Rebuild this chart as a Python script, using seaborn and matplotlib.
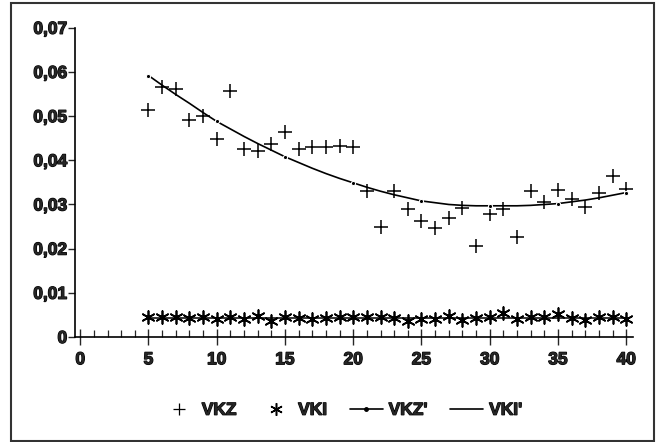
import numpy as np
import pandas as pd
import matplotlib
matplotlib.use("Agg")
import matplotlib.pyplot as plt
import matplotlib.patheffects as pe
from matplotlib.patches import Rectangle
from matplotlib.lines import Line2D
from matplotlib.ticker import FuncFormatter, MultipleLocator
import seaborn as sns

# x positions 5..40
x_vals = list(range(5, 41))

vkz = [0.0515, 0.0565, 0.0562, 0.0492, 0.0501, 0.0449, 0.0556, 0.0426, 0.0422,
       0.0438, 0.0465, 0.0426, 0.0429, 0.0429, 0.0433, 0.0431, 0.0331, 0.0249,
       0.0331, 0.0290, 0.0263, 0.0247, 0.0270, 0.0293, 0.0206, 0.0278, 0.0290,
       0.0227, 0.0331, 0.0306, 0.0333, 0.0313, 0.0295, 0.0327, 0.0365, 0.0336]

vki = [0.0045, 0.0045, 0.0045, 0.0044, 0.0046, 0.0041, 0.0045, 0.0041, 0.0048,
       0.0037, 0.0046, 0.0043, 0.0040, 0.0043, 0.0045, 0.0045, 0.0045, 0.0045,
       0.0043, 0.0037, 0.0040, 0.0040, 0.0048, 0.0039, 0.0043, 0.0046, 0.0054,
       0.0040, 0.0045, 0.0046, 0.0052, 0.0043, 0.0039, 0.0045, 0.0045, 0.0040]

vkz_fit = [0.0592, 0.0570, 0.0549, 0.0529, 0.0508, 0.0488, 0.0471, 0.0454, 0.0438,
           0.0423, 0.0408, 0.0395, 0.0382, 0.0370, 0.0359, 0.0349, 0.0339, 0.0330,
           0.0322, 0.0315, 0.0308, 0.0304, 0.0300, 0.0298, 0.0297, 0.0297, 0.0297,
           0.0297, 0.0298, 0.0300, 0.0302, 0.0306, 0.0310, 0.0315, 0.0321, 0.0327]

vki_fit = [0.0043] * len(x_vals)

x_ticks = [0, 5, 10, 15, 20, 25, 30, 35, 40]
y_ticks = [0, 0.01, 0.02, 0.03, 0.04, 0.05, 0.06, 0.07]

df = pd.DataFrame({"x": x_vals, "VKZ": vkz, "VKI": vki,
                   "VKZ'": vkz_fit, "VKI'": vki_fit})

sns.set_style("ticks")
plt.rcParams["font.family"] = ["Liberation Sans", "DejaVu Sans"]
plt.rcParams["font.weight"] = "bold"

fig = plt.figure(figsize=(6.56, 4.42), dpi=100)
ax = fig.add_axes([0.114, 0.2376, 0.851, 0.6995])

asterisk = (6, 2, 0)

sns.lineplot(data=df, x="x", y="VKI'", ax=ax, color="black", lw=1.1)
sns.lineplot(data=df, x="x", y="VKZ'", ax=ax, color="black", lw=1.2,
             marker="o", markersize=3, markevery=5)
sns.scatterplot(data=df, x="x", y="VKZ", ax=ax, marker="+", s=100,
                color="black", linewidth=1.1)
sns.scatterplot(data=df, x="x", y="VKI", ax=ax, marker=asterisk, s=85,
                color="black", linewidth=1.25)

ax.set_xlim(-0.4, 40.5)
ax.set_ylim(0, 0.07)
ax.set_xticks(x_ticks)
ax.set_yticks(y_ticks)
ax.xaxis.set_minor_locator(MultipleLocator(1))
ax.yaxis.set_major_formatter(FuncFormatter(
    lambda v, p: "0" if v == 0 else f"{v:.2f}".replace(".", ",")))
ax.set_xlabel("")
ax.set_ylabel("")

sns.despine(ax=ax)
for sp in ["left", "bottom"]:
    ax.spines[sp].set_linewidth(1.2)
    ax.spines[sp].set_color("black")
ax.spines["bottom"].set_clip_on(False)

ax.tick_params(axis="x", which="major", direction="inout", length=12,
               width=1.0, pad=5, labelsize=12.5)
ax.tick_params(axis="x", which="minor", direction="in", length=5, width=0.9)
ax.tick_params(axis="y", which="major", direction="out", length=5,
               width=1.0, pad=0.5, labelsize=12.5)

handles = [
    Line2D([], [], color="black", marker="+", ls="none", markersize=9, mew=0.9),
    Line2D([], [], color="black", marker=asterisk, ls="none", markersize=9, mew=1.1),
    Line2D([], [], color="black", marker="o", markersize=2.5, lw=1.2),
    Line2D([], [], color="black", lw=1.2),
]
leg = fig.legend(handles, ["VKZ", "VKI", "VKZ'", "VKI'"], loc="center",
                 bbox_to_anchor=(0.522, 0.072), ncol=4, frameon=False,
                 prop={"weight": "bold", "size": 12.5}, handlelength=1.9,
                 columnspacing=1.3, handletextpad=0.35, numpoints=1)

fig.patches.append(Rectangle((11 / 656, 1 - 441 / 442), 643 / 656, 438 / 442,
                             transform=fig.transFigure, fill=False,
                             edgecolor="#333333", lw=1.5))

# thicken text to match the heavy print of the original
fig.canvas.draw()
heavy = [pe.withStroke(linewidth=0.9, foreground="black")]
for t in ax.get_xticklabels() + ax.get_yticklabels() + leg.get_texts():
    t.set_fontweight("bold")
    t.set_path_effects(heavy)

fig.savefig("out.png", dpi=100)
